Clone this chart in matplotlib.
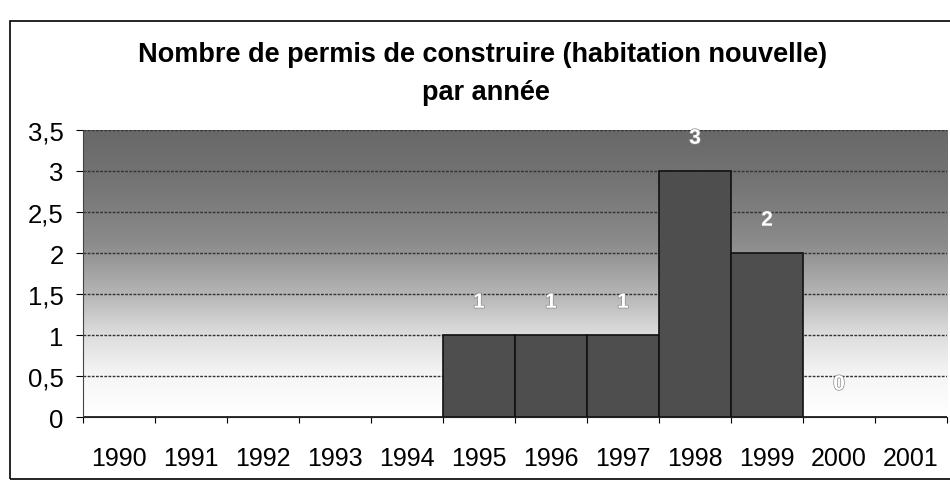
import matplotlib.pyplot as plt
import matplotlib.patheffects as pe
import numpy as np
from matplotlib.colors import LinearSegmentedColormap
from matplotlib.ticker import FuncFormatter, MultipleLocator

# data
years = ["1990", "1991", "1992", "1993", "1994", "1995",
         "1996", "1997", "1998", "1999", "2000", "2001"]
permits = [None, None, None, None, None, 1, 1, 1, 3, 2, 0, None]

title_1 = "Nombre de permis de construire (habitation nouvelle)"
title_2 = "par année"

plt.rcParams['font.family'] = ['Liberation Sans', 'DejaVu Sans']

fig = plt.figure(figsize=(9.5, 4.85), dpi=100)
fig.patch.set_facecolor("white")

# outer frame of the chart object
frame = plt.Rectangle((0.011, 0.01), 1.0, 0.945, transform=fig.transFigure,
                      fill=False, edgecolor="black", linewidth=1.2)
fig.add_artist(frame)

ax = fig.add_axes([0.0874, 0.138, 0.9095, 0.592])

# gradient fill of the plot area: dark grey at top fading to white at bottom
ramp = LinearSegmentedColormap.from_list("bg", [
    (0.0, "#ffffff"), (0.14, "#f6f6f6"), (0.29, "#dcdcdc"),
    (0.43, "#b4b4b4"), (0.6, "#8c8c8c"), (0.8, "#767676"), (1.0, "#686868")])
grad = np.linspace(0, 1, 256).reshape(-1, 1)
ax.imshow(grad, extent=(0, 1, 0, 1), transform=ax.transAxes, aspect="auto",
          cmap=ramp, vmin=0, vmax=1, origin="lower", zorder=0)

x = np.arange(len(years))
vals = [v if v is not None else 0 for v in permits]
ax.bar(x, vals, width=1.0, color="#4e4e4e", edgecolor="#111111",
       linewidth=1.2, zorder=2)

for xi, v in zip(x, permits):
    if v is None:
        continue
    ax.text(xi, v + 0.4, str(v), ha="center", va="center", fontsize=15,
            color="white", fontweight="bold", zorder=3,
            path_effects=[pe.withStroke(linewidth=1.0, foreground="#8a8a8a")])

ax.set_xlim(-0.5, len(years) - 0.5)
ax.set_ylim(0, 3.5)
ax.yaxis.set_major_locator(MultipleLocator(0.5))
ax.yaxis.set_major_formatter(FuncFormatter(
    lambda v, p: ("%g" % v).replace(".", ",")))
ax.grid(axis="y", color="#333333", linewidth=1.0, linestyle=(0, (2, 1)),
        zorder=1)

ax.set_xticks(x)
ax.set_xticklabels(years)
ax.set_xticks(np.arange(-0.5, len(years)), minor=True)
ax.tick_params(axis="x", which="major", length=0, pad=21, labelsize=18)
ax.tick_params(axis="x", which="minor", length=4, width=0.8)
ax.tick_params(axis="y", length=5, width=0.8, pad=9, labelsize=18.5)

for side in ["top", "right"]:
    ax.spines[side].set_visible(False)
ax.spines["left"].set_color("#444444")
ax.spines["bottom"].set_color("#222222")

fig.text(0.508, 1 - 62 / 485, title_1, ha="center", va="baseline",
         fontsize=19.5, fontweight="bold")
fig.text(0.512, 1 - 100 / 485, title_2, ha="center", va="baseline",
         fontsize=19.5, fontweight="bold")

fig.savefig("out.png", dpi=100)
